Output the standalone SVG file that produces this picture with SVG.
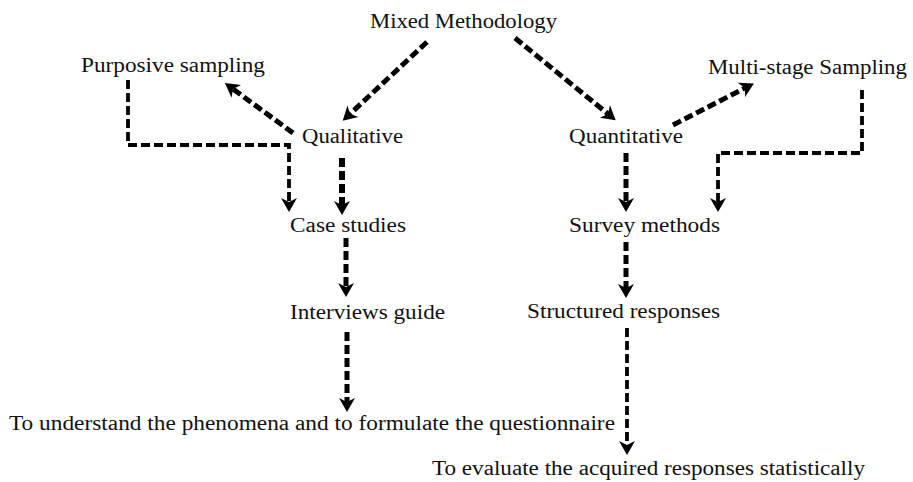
<svg xmlns="http://www.w3.org/2000/svg" width="913" height="482" viewBox="0 0 913 482">
  <style>
    text { font-family: 'Liberation Serif', 'Times New Roman', Times, serif; font-size: 20px; fill: #111; }
    .edge { fill: none; stroke: #000; stroke-width: 5; stroke-dasharray: 9 4; }
    .thin { stroke-width: 3.8; }
    .thick { stroke-width: 6; }
  </style>
  <defs>
    <marker id="head" markerUnits="userSpaceOnUse" markerWidth="18" markerHeight="18" viewBox="0 -9 15 18" refX="4" refY="0" orient="auto">
      <path d="M14,0 L0,-8 L4,0 L0,8 Z" fill="#000"/>
    </marker>
  </defs>
  <rect width="913" height="482" fill="#fff"/>

  <g id="connectors">
    <!-- Mixed Methodology branches -->
    <line class="edge" x1="427" y1="42" x2="350" y2="114" marker-end="url(#head)"/>
    <line class="edge" x1="515" y1="38" x2="608" y2="114" marker-end="url(#head)"/>
    <!-- sampling branches -->
    <line class="edge" x1="293" y1="133" x2="233" y2="89" marker-end="url(#head)"/>
    <line class="edge" x1="673" y1="125" x2="745" y2="88" marker-end="url(#head)"/>
    <!-- sampling feeds into the method nodes -->
    <path class="edge thin" d="M128,80 V145 H289 V202" marker-end="url(#head)"/>
    <path class="edge thin" d="M862,90 V153 H718 V202" marker-end="url(#head)"/>
    <!-- qualitative chain -->
    <line class="edge thick" x1="342" y1="158" x2="342" y2="205" marker-end="url(#head)"/>
    <line class="edge" x1="346" y1="238" x2="346" y2="287" marker-end="url(#head)"/>
    <line class="edge" x1="347" y1="332" x2="347" y2="402" marker-end="url(#head)"/>
    <!-- quantitative chain -->
    <line class="edge" x1="626" y1="153" x2="626" y2="202" marker-end="url(#head)"/>
    <line class="edge" x1="626" y1="242" x2="626" y2="288" marker-end="url(#head)"/>
    <line class="edge thin" x1="627" y1="328" x2="627" y2="445" marker-end="url(#head)"/>
  </g>

  <g id="mixed"><text x="370" y="28" textLength="187" lengthAdjust="spacingAndGlyphs" font-family="Liberation Serif">Mixed Methodology</text></g>
  <g id="purposive"><text x="81" y="72" textLength="184" lengthAdjust="spacingAndGlyphs" font-family="Liberation Serif">Purposive sampling</text></g>
  <g id="multistage"><text x="708" y="74" textLength="199" lengthAdjust="spacingAndGlyphs" font-family="Liberation Serif">Multi-stage Sampling</text></g>
  <g id="qualitative"><text x="302" y="143" textLength="101" lengthAdjust="spacingAndGlyphs" font-family="Liberation Serif">Qualitative</text></g>
  <g id="quantitative"><text x="569" y="143" textLength="114" lengthAdjust="spacingAndGlyphs" font-family="Liberation Serif">Quantitative</text></g>
  <g id="case"><text x="290" y="232" textLength="116" lengthAdjust="spacingAndGlyphs" font-family="Liberation Serif">Case studies</text></g>
  <g id="survey"><text x="569" y="232" textLength="151" lengthAdjust="spacingAndGlyphs" font-family="Liberation Serif">Survey methods</text></g>
  <g id="interviews"><text x="290" y="319" textLength="155" lengthAdjust="spacingAndGlyphs" font-family="Liberation Serif">Interviews guide</text></g>
  <g id="structured"><text x="527" y="318" textLength="193" lengthAdjust="spacingAndGlyphs" font-family="Liberation Serif">Structured responses</text></g>
  <g id="understand"><text x="9" y="430" textLength="606" lengthAdjust="spacingAndGlyphs" font-family="Liberation Serif">To understand the phenomena and to formulate the questionnaire</text></g>
  <g id="evaluate"><text x="432" y="475" textLength="433" lengthAdjust="spacingAndGlyphs" font-family="Liberation Serif">To evaluate the acquired responses statistically</text></g>
</svg>
